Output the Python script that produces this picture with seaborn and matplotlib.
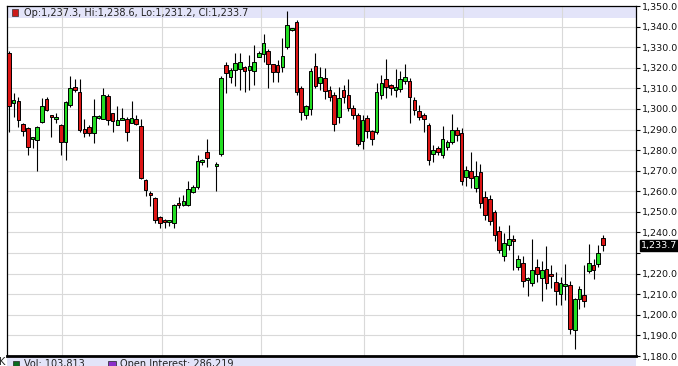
import numpy as np
import matplotlib
matplotlib.use("Agg")
import matplotlib.pyplot as plt
import matplotlib.transforms as mtransforms
from matplotlib.patches import Rectangle
import seaborn as sns

# ---- data (daily OHLC) ----
opens = [1327.0, 1302.8, 1304.0, 1292.6, 1290.7, 1285.3, 1284.9, 1293.6, 1304.8, 1296.5,
         1295.0, 1292.2, 1284.1, 1301.7, 1310.9, 1308.4, 1290.2, 1291.3, 1288.3, 1295.6,
         1295.1, 1306.4, 1297.8, 1292.0, 1294.8, 1295.1, 1293.4, 1295.1, 1291.8, 1265.7,
         1258.9, 1256.8, 1247.6, 1245.8, 1245.3, 1244.6, 1254.4, 1253.2, 1253.2, 1259.7,
         1262.0, 1274.1, 1279.1, 1272.1, 1278.1, 1321.4, 1315.7, 1319.0, 1319.5, 1320.6,
         1319.0, 1318.2, 1325.4, 1326.6, 1328.3, 1321.7, 1321.4, 1320.3, 1330.0, 1338.5,
         1342.4, 1310.0, 1297.2, 1300.0, 1321.0, 1312.5, 1315.0, 1309.3, 1306.9, 1296.3,
         1309.3, 1306.9, 1300.4, 1297.2, 1284.6, 1295.6, 1289.4, 1288.8, 1307.0, 1314.6,
         1310.8, 1309.3, 1309.6, 1313.6, 1313.6, 1304.4, 1298.8, 1297.2, 1292.0, 1278.1,
         1281.0, 1277.4, 1281.7, 1283.9, 1289.9, 1288.3, 1266.9, 1269.7, 1261.6, 1269.4,
         1257.2, 1256.3, 1249.8, 1240.6, 1228.5, 1233.7, 1235.9, 1223.4, 1225.3, 1216.7,
         1215.3, 1223.1, 1217.7, 1222.4, 1219.3, 1216.0, 1209.9, 1214.0, 1214.3, 1192.4,
         1207.8, 1209.6, 1221.2, 1224.4, 1224.8, 1237.3]
highs = [1328.0, 1307.7, 1305.7, 1293.0, 1291.0, 1285.7, 1291.5, 1305.3, 1306.0, 1296.8,
         1298.0, 1292.5, 1304.0, 1316.0, 1314.5, 1314.5, 1295.0, 1292.0, 1304.9, 1297.0,
         1310.1, 1307.2, 1298.0, 1301.2, 1300.4, 1296.0, 1304.0, 1297.0, 1295.0, 1266.0,
         1260.0, 1257.0, 1248.0, 1246.5, 1246.0, 1254.0, 1257.0, 1258.4, 1264.8, 1263.0,
         1277.8, 1275.5, 1285.5, 1274.0, 1316.0, 1323.0, 1320.0, 1327.0, 1327.0, 1321.0,
         1326.0, 1331.0, 1328.0, 1336.3, 1329.0, 1322.0, 1324.0, 1334.3, 1347.6, 1339.5,
         1343.0, 1311.0, 1302.0, 1320.0, 1327.0, 1320.6, 1319.8, 1311.0, 1308.0, 1310.9,
         1311.7, 1314.5, 1302.0, 1298.0, 1297.0, 1297.0, 1290.0, 1312.5, 1316.6, 1324.3,
         1312.0, 1319.5, 1318.2, 1321.9, 1315.0, 1306.0, 1302.0, 1298.0, 1293.0, 1282.6,
         1282.0, 1291.8, 1285.0, 1297.5, 1291.2, 1290.7, 1272.1, 1279.1, 1274.5, 1273.4,
         1260.0, 1258.4, 1251.0, 1243.0, 1239.8, 1243.4, 1239.0, 1229.3, 1228.5, 1218.5,
         1236.9, 1226.9, 1226.0, 1233.3, 1224.0, 1220.7, 1218.5, 1224.5, 1216.4, 1208.0,
         1214.0, 1224.0, 1234.6, 1226.9, 1234.0, 1238.6]
lows = [1289.0, 1296.0, 1291.2, 1287.0, 1277.8, 1281.0, 1269.7, 1293.0, 1299.0, 1286.6,
        1293.0, 1277.8, 1275.0, 1301.0, 1308.0, 1289.0, 1286.6, 1287.0, 1283.4, 1295.0,
        1295.0, 1292.3, 1289.0, 1292.0, 1294.5, 1284.2, 1293.0, 1292.0, 1266.0, 1257.6,
        1252.8, 1244.6, 1242.2, 1242.0, 1243.0, 1242.2, 1252.0, 1253.0, 1253.0, 1259.0,
        1261.0, 1273.0, 1271.8, 1260.0, 1277.0, 1307.7, 1312.5, 1311.0, 1309.3, 1308.2,
        1309.0, 1311.7, 1325.0, 1323.0, 1310.4, 1313.0, 1313.0, 1318.0, 1329.0, 1338.0,
        1307.0, 1294.7, 1295.0, 1297.0, 1310.0, 1309.3, 1305.0, 1304.0, 1289.4, 1293.1,
        1303.0, 1299.0, 1295.0, 1281.8, 1280.7, 1286.0, 1282.6, 1288.0, 1305.0, 1305.3,
        1307.0, 1306.0, 1308.0, 1312.0, 1293.1, 1297.0, 1294.5, 1289.0, 1273.0, 1274.2,
        1277.8, 1276.2, 1280.0, 1283.0, 1284.2, 1263.2, 1262.4, 1261.6, 1259.5, 1251.9,
        1246.3, 1243.6, 1236.0, 1230.0, 1226.0, 1231.7, 1222.0, 1222.0, 1213.6, 1209.0,
        1214.0, 1216.0, 1206.7, 1212.7, 1213.0, 1204.6, 1204.6, 1207.0, 1190.5, 1183.3,
        1202.6, 1204.0, 1220.4, 1217.2, 1223.0, 1231.2]
closes = [1301.5, 1304.3, 1294.6, 1289.1, 1281.5, 1285.7, 1291.2, 1301.4, 1299.5, 1296.1,
          1296.0, 1284.1, 1303.3, 1310.1, 1309.0, 1290.0, 1288.3, 1288.3, 1296.7, 1296.3,
          1306.9, 1294.6, 1294.0, 1294.4, 1295.5, 1288.8, 1295.6, 1292.8, 1266.5, 1260.8,
          1258.0, 1246.0, 1244.6, 1245.3, 1245.6, 1253.5, 1253.2, 1255.2, 1261.3, 1262.1,
          1274.9, 1274.9, 1276.2, 1273.4, 1315.2, 1317.4, 1319.0, 1322.5, 1323.0, 1318.2,
          1320.9, 1322.7, 1327.0, 1331.9, 1321.7, 1317.9, 1317.9, 1325.9, 1340.8, 1338.9,
          1308.2, 1298.7, 1301.2, 1318.5, 1311.3, 1315.4, 1308.5, 1306.0, 1292.7, 1305.3,
          1305.6, 1300.4, 1297.2, 1283.0, 1294.7, 1289.1, 1285.5, 1308.2, 1312.5, 1310.9,
          1310.4, 1310.6, 1314.5, 1315.4, 1306.0, 1299.3, 1296.3, 1295.1, 1275.4, 1280.2,
          1279.1, 1285.4, 1283.9, 1289.9, 1287.4, 1265.2, 1270.2, 1266.5, 1267.3, 1254.4,
          1248.7, 1245.5, 1239.0, 1231.7, 1235.0, 1236.9, 1235.7, 1227.3, 1216.2, 1217.7,
          1222.0, 1219.9, 1221.7, 1215.6, 1219.0, 1211.8, 1215.3, 1215.1, 1193.3, 1207.5,
          1212.6, 1206.5, 1225.3, 1222.0, 1230.2, 1233.7]
holiday_after_session = 43          # one market holiday (no bar) after this session
y_ticks = list(range(1180, 1351, 10))
header_text = "Op:1,237.3, Hi:1,238.6, Lo:1,231.2, Cl:1,233.7"
volume_text = "Vol: 103,813"
oi_text = "Open Interest: 286,219"
last_price = closes[-1]

# ---- styling ----
sns.set_theme(style="white")
plt.rcParams['font.family'] = ['DejaVu Sans']

W, H = 678, 366
fig = plt.figure(figsize=(W / 100, H / 100), dpi=100)
fig.patch.set_facecolor("white")
ax = fig.add_axes([7 / W, 10 / H, 629 / W, 350 / H])
ax.set_facecolor("white")

o = np.array(opens); h = np.array(highs); l = np.array(lows); c = np.array(closes)
n = len(o)
idx = np.arange(n)
day = idx + (idx >= holiday_after_session)

up = c >= o
body_bottom = np.minimum(o, c)
body_height = np.maximum(np.abs(c - o), 1.0)
face = np.where(up, "#22dd22", "#dd1515")

ax.vlines(day, l, h, color="black", linewidth=0.8, zorder=3)
ax.bar(day, body_height, bottom=body_bottom, width=0.76, color=face,
       edgecolor="black", linewidth=0.7, zorder=4)

ax.set_xlim(-0.42, 133.0)
ax.set_ylim(1180, 1350)

# grid
ax.set_xticks([11.24, 32.46, 53.46, 75.3, 96.3, 117.3])
ax.set_xticklabels([])
ax.tick_params(axis="x", length=0)
ax.set_yticks(y_ticks)
ax.yaxis.tick_right()
labels = [f"{v:,.1f}" for v in y_ticks]
labels[y_ticks.index(1230)] = ""
ax.set_yticklabels(labels)
ax.tick_params(axis="y", length=3.2, width=0.8, color="black", pad=0.8,
               labelsize=6.8, labelcolor="#111111", direction="out")
ax.grid(True, color="#d9d9d9", linewidth=0.8, zorder=1)
ax.set_axisbelow(True)

for s in ["left", "right", "top"]:
    ax.spines[s].set_color("black")
    ax.spines[s].set_linewidth(0.9)
ax.spines["bottom"].set_color("black")
ax.spines["bottom"].set_linewidth(2.0)

# header band
ax.add_patch(Rectangle((0, 1 - 12 / 350), 1, 12 / 350, transform=ax.transAxes,
                       facecolor="#e3e4f9", edgecolor="none", zorder=0.5))
fig.add_artist(Rectangle((12 / W, 1 - 16 / H), 6 / W, 7 / H, transform=fig.transFigure,
                         facecolor="#cc1a1a", edgecolor="#333333", linewidth=0.5))
fig.text(24 / W, 1 - 12.5 / H, header_text, fontsize=7, color="#222222",
         ha="left", va="center")

# last price box
trans = mtransforms.blended_transform_factory(ax.transAxes, ax.transData)
ax.text(1 + 5 / 629, last_price, f"{last_price:,.1f}", transform=trans, fontsize=6.8,
        color="white", ha="left", va="center", zorder=6, clip_on=False,
        bbox=dict(boxstyle="square,pad=0.15", facecolor="black", edgecolor="black"))

# lower pane header (cut off)
fig.add_artist(Rectangle((7 / W, 0), 629 / W, 8 / H, transform=fig.transFigure,
                         facecolor="#e3e4f9", edgecolor="none", zorder=0))
fig.add_artist(Rectangle((12.5 / W, 0), 6.5 / W, 5 / H, transform=fig.transFigure,
                         facecolor="#0b6b1f", edgecolor="#222222", linewidth=0.5))
fig.add_artist(Rectangle((108 / W, 0), 7.5 / W, 5 / H, transform=fig.transFigure,
                         facecolor="#8b2fc9", edgecolor="#222222", linewidth=0.5))
fig.text(24 / W, 1 - 359 / H, volume_text, fontsize=7, color="#222222", ha="left", va="top")
fig.text(120.5 / W, 1 - 359 / H, oi_text, fontsize=7, color="#222222", ha="left", va="top")
fig.text(-0.5 / W, 1 - 357 / H, "K", fontsize=7, color="#222222", ha="left", va="top")

fig.savefig("out.png", dpi=100)
